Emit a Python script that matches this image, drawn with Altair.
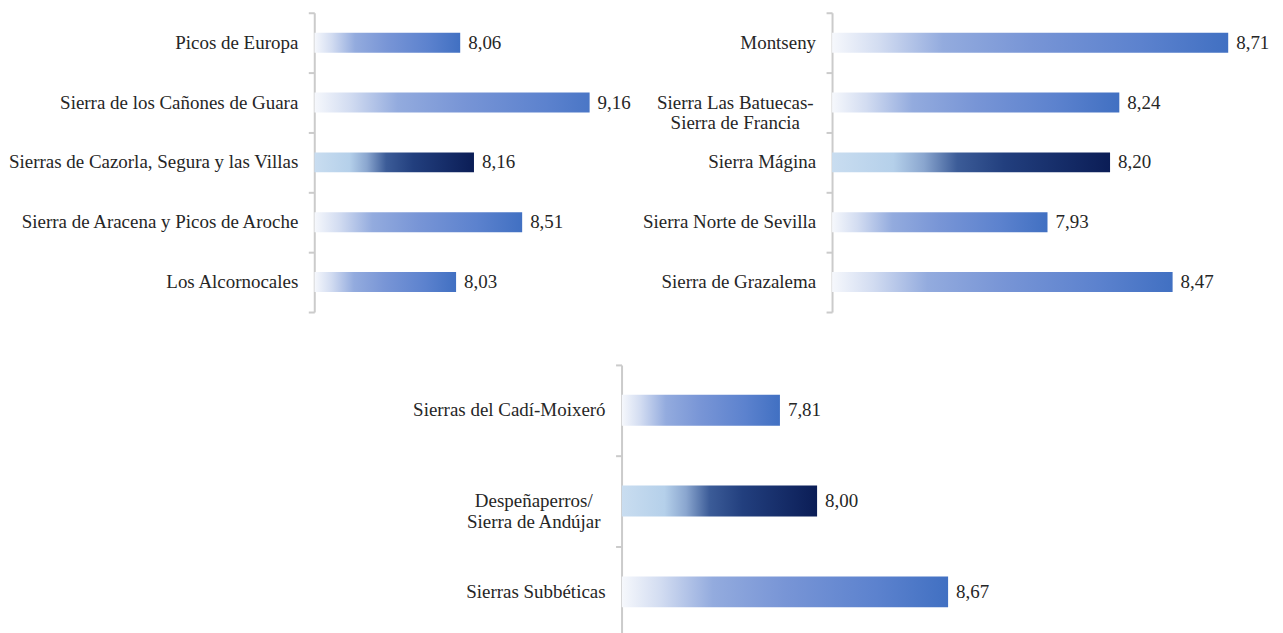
import altair as alt
import pandas as pd

FONT = "Liberation Serif"
FS = 19

p1_names = ["Picos de Europa", "Sierra de los Cañones de Guara", "Sierras de Cazorla, Segura y las Villas",
            "Sierra de Aracena y Picos de Aroche", "Los Alcornocales"]
p1_values = [8.06, 9.16, 8.16, 8.51, 8.03]
p1_highlight = [False, False, True, False, False]

p2_names = ["Montseny", "Sierra Las Batuecas-|Sierra de Francia", "Sierra Mágina",
            "Sierra Norte de Sevilla", "Sierra de Grazalema"]
p2_values = [8.71, 8.24, 8.20, 7.93, 8.47]
p2_highlight = [False, False, True, False, False]

p3_names = ["Sierras del Cadí-Moixeró", "Despeñaperros/|Sierra de Andújar", "Sierras Subbéticas"]
p3_values = [7.81, 8.00, 8.67]
p3_highlight = [False, True, False]

grad_normal = alt.LinearGradient(
    gradient="linear", x1=0, x2=1, y1=0, y2=0,
    stops=[
        alt.GradientStop(offset=0, color="#F6F8FC"),
        alt.GradientStop(offset=0.12, color="#D2DCF1"),
        alt.GradientStop(offset=0.28, color="#93ABDE"),
        alt.GradientStop(offset=0.5, color="#7895D6"),
        alt.GradientStop(offset=0.78, color="#5C82CE"),
        alt.GradientStop(offset=1, color="#4170C2"),
    ],
)
grad_high = alt.LinearGradient(
    gradient="linear", x1=0, x2=1, y1=0, y2=0,
    stops=[
        alt.GradientStop(offset=0, color="#C9DDF0"),
        alt.GradientStop(offset=0.22, color="#B5D0EA"),
        alt.GradientStop(offset=0.33, color="#8AA6CF"),
        alt.GradientStop(offset=0.45, color="#3C5C98"),
        alt.GradientStop(offset=0.62, color="#223F7E"),
        alt.GradientStop(offset=1, color="#0B1D56"),
    ],
)


def panel(names, values, highlight, width, height, xmax, bar_size, multi_x):
    df = pd.DataFrame({
        "name": names,
        "value": values,
        "hl": highlight,
        "multi": ["|" in n for n in names],
        "label": [f"{v:.2f}".replace(".", ",") for v in values],
    })
    base = alt.Chart(df).transform_calculate(xpos=f"min(datum.value, {xmax})")
    xs = alt.Scale(domain=[7, xmax], nice=False, zero=False)
    x = alt.X("value:Q", scale=xs, axis=None)
    y = alt.Y(
        "name:N", sort=names, title=None,
        scale=alt.Scale(paddingInner=0, paddingOuter=0),
        axis=alt.Axis(
            labels=False,
            domainColor="#CBCBCB", domainWidth=2, tickColor="#CBCBCB", tickWidth=2, tickSize=6,
            tickBand="extent", grid=False,
        ),
    )
    normal = base.transform_filter("!datum.hl").mark_bar(color=grad_normal, size=bar_size, clip=True).encode(
        x=x, x2=alt.datum(7), y=y)
    high = base.transform_filter("datum.hl").mark_bar(color=grad_high, size=bar_size, clip=True).encode(
        x=x, x2=alt.datum(7), y=y)
    text = base.mark_text(align="left", dx=8, font=FONT, fontSize=FS, color="#262626").encode(
        x=alt.X("xpos:Q", scale=xs, axis=None),
        y=y, text="label:N")
    names_single = base.transform_filter("!datum.multi").mark_text(
        align="right", baseline="middle", font=FONT, fontSize=FS, color="#262626").encode(
        x=alt.value(-16), y=y, text="name:N")
    layers = [normal, high, text, names_single]
    if any("|" in n for n in names):
        names_multi = base.transform_filter("datum.multi").mark_text(
            align="center", baseline="middle", font=FONT, fontSize=FS, color="#262626",
            lineBreak="|", lineHeight=21).encode(
            x=alt.value(multi_x), y=y, text="name:N")
        layers.append(names_multi)
    return alt.layer(*layers).properties(width=width, height=height)


p1 = panel(p1_names, p1_values, p1_highlight, 276, 300, 9.0, 20, -90)
p2 = panel(p2_names, p2_values, p2_highlight, 418, 300, 8.8, 20, -97)
p3 = panel(p3_names, p3_values, p3_highlight, 392, 273, 9.0, 31, -88)

spacer = alt.Chart(pd.DataFrame({"a": [0]})).mark_point(opacity=0, size=1).encode(
    x=alt.value(5), y=alt.value(5)).properties(width=298, height=10)

top = alt.hconcat(p1, p2, spacing=243, bounds="flush")
bottom = alt.hconcat(spacer, p3, spacing=10, bounds="flush")

chart = alt.vconcat(top, bottom, spacing=51).properties(
    padding={"left": 0, "top": 3, "right": 5, "bottom": 0},
    background="white",
).configure_view(stroke=None)

chart.save("out.html", embed_options={"renderer": "svg", "actions": False})
